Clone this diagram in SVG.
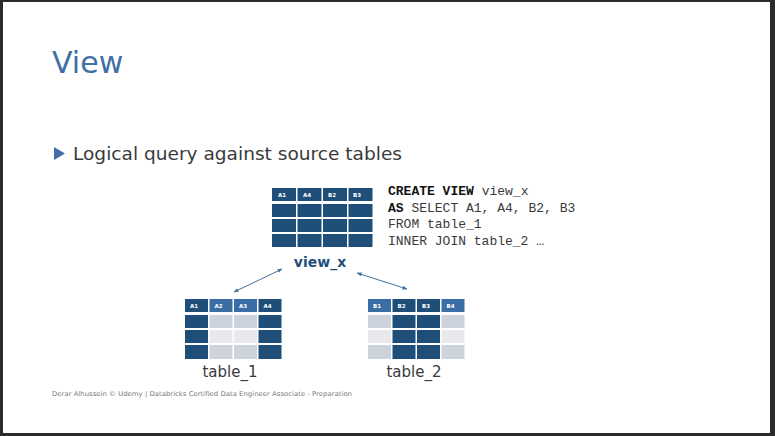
<svg xmlns="http://www.w3.org/2000/svg" width="775" height="436" viewBox="0 0 775 436">
  <defs>
    <style>
      .title { font-family: "DejaVu Sans", "Liberation Sans", sans-serif; font-size: 30px; fill: #3F6FA6; }
      .bullet { font-family: "DejaVu Sans", "Liberation Sans", sans-serif; font-size: 18px; fill: #3A3A3A; }
      .code { font-family: "Liberation Mono", "Courier New", monospace; font-size: 13px; fill: #3A3A3A; }
      .code b, .kw { font-weight: bold; fill: #111; }
      .lbl { font-family: "DejaVu Sans", "Liberation Sans", sans-serif; font-size: 15px; fill: #3A3A3A; }
      .vlbl { font-family: "DejaVu Sans", "Liberation Sans", sans-serif; font-size: 14px; font-weight: bold; fill: #1F4E79; }
      .hdr { font-family: "DejaVu Sans", "Liberation Sans", sans-serif; font-size: 5.5px; font-weight: bold; fill: #FFFFFF; }
      .foot { font-family: "DejaVu Sans", "Liberation Sans", sans-serif; font-size: 6.6px; fill: #7A7A7A; }
      .dk { fill: #1F4E79; }
      .md { fill: #3A6EA5; }
      .g1 { fill: #CDD3DD; }
      .g2 { fill: #E7E9ED; }
      .conn { stroke: #41719C; stroke-width: 1; fill: none; marker-start: url(#ah); marker-end: url(#ah); }
    </style>
    <marker id="ah" viewBox="0 0 10 10" refX="9" refY="5" markerWidth="5" markerHeight="5" orient="auto-start-reverse">
      <path d="M0,1 L10,5 L0,9 z" fill="#41719C"/>
    </marker>
  </defs>

  <!-- page -->
  <rect x="0" y="0" width="775" height="436" fill="#2B2B2B"/>
  <rect x="3" y="2" width="767" height="431" fill="#FFFFFF"/>

  <text class="title" x="52" y="73">View</text>

  <path d="M54,147 L65,153.5 L54,160 z" fill="#3F6FA6"/>
  <text class="bullet" x="73" y="160" textLength="329" lengthAdjust="spacingAndGlyphs">Logical query against source tables</text>

  <!-- view table -->
  <g id="view_x">
    <rect class="dk" x="272" y="188" width="24" height="13"/>
    <rect class="dk" x="297.5" y="188" width="24" height="13"/>
    <rect class="dk" x="323" y="188" width="24" height="13"/>
    <rect class="dk" x="348.5" y="188" width="24" height="13"/>
    <text class="hdr" x="278" y="196.5">A1</text>
    <text class="hdr" x="303" y="196.5">A4</text>
    <text class="hdr" x="328" y="196.5">B2</text>
    <text class="hdr" x="353" y="196.5">B3</text>
    <rect class="dk" x="272" y="204" width="24" height="13"/>
    <rect class="dk" x="297.5" y="204" width="24" height="13"/>
    <rect class="dk" x="323" y="204" width="24" height="13"/>
    <rect class="dk" x="348.5" y="204" width="24" height="13"/>
    <rect class="dk" x="272" y="219" width="24" height="13"/>
    <rect class="dk" x="297.5" y="219" width="24" height="13"/>
    <rect class="dk" x="323" y="219" width="24" height="13"/>
    <rect class="dk" x="348.5" y="219" width="24" height="13"/>
    <rect class="dk" x="272" y="234" width="24" height="13"/>
    <rect class="dk" x="297.5" y="234" width="24" height="13"/>
    <rect class="dk" x="323" y="234" width="24" height="13"/>
    <rect class="dk" x="348.5" y="234" width="24" height="13"/>
    <text class="vlbl" x="320" y="267" text-anchor="middle">view_x</text>
  </g>

  <!-- defining query -->
  <g id="query">
    <text class="code" x="388" y="195"><tspan class="kw">CREATE VIEW</tspan> view_x</text>
    <text class="code" x="388" y="212"><tspan class="kw">AS</tspan> SELECT A1, A4, B2, B3</text>
    <text class="code" x="388" y="228">FROM table_1</text>
    <text class="code" x="388" y="245">INNER JOIN table_2 …</text>
  </g>

  <!-- source table 1 -->
  <g id="table_1">
    <rect class="dk" x="185" y="299" width="23" height="13"/>
    <rect class="md" x="209.5" y="299" width="23" height="13"/>
    <rect class="md" x="234" y="299" width="23" height="13"/>
    <rect class="dk" x="258.5" y="299" width="23" height="13"/>
    <text class="hdr" x="190" y="307.5">A1</text>
    <text class="hdr" x="214.5" y="307.5">A2</text>
    <text class="hdr" x="239" y="307.5">A3</text>
    <text class="hdr" x="263.5" y="307.5">A4</text>
    <rect class="dk" x="185" y="315" width="23" height="13"/>
    <rect class="g1" x="209.5" y="315" width="23" height="13"/>
    <rect class="g1" x="234" y="315" width="23" height="13"/>
    <rect class="dk" x="258.5" y="315" width="23" height="13"/>
    <rect class="dk" x="185" y="330" width="23" height="13"/>
    <rect class="g2" x="209.5" y="330" width="23" height="13"/>
    <rect class="g2" x="234" y="330" width="23" height="13"/>
    <rect class="dk" x="258.5" y="330" width="23" height="13"/>
    <rect class="dk" x="185" y="345" width="23" height="14"/>
    <rect class="g1" x="209.5" y="345" width="23" height="14"/>
    <rect class="g1" x="234" y="345" width="23" height="14"/>
    <rect class="dk" x="258.5" y="345" width="23" height="14"/>
    <text class="lbl" x="230" y="377" text-anchor="middle">table_1</text>
  </g>

  <!-- source table 2 -->
  <g id="table_2">
    <rect class="md" x="368" y="299" width="23" height="13"/>
    <rect class="dk" x="392.5" y="299" width="23" height="13"/>
    <rect class="dk" x="417" y="299" width="23" height="13"/>
    <rect class="md" x="441.5" y="299" width="23" height="13"/>
    <text class="hdr" x="373" y="307.5">B1</text>
    <text class="hdr" x="397.5" y="307.5">B2</text>
    <text class="hdr" x="422" y="307.5">B3</text>
    <text class="hdr" x="446.5" y="307.5">B4</text>
    <rect class="g1" x="368" y="315" width="23" height="13"/>
    <rect class="dk" x="392.5" y="315" width="23" height="13"/>
    <rect class="dk" x="417" y="315" width="23" height="13"/>
    <rect class="g1" x="441.5" y="315" width="23" height="13"/>
    <rect class="g2" x="368" y="330" width="23" height="13"/>
    <rect class="dk" x="392.5" y="330" width="23" height="13"/>
    <rect class="dk" x="417" y="330" width="23" height="13"/>
    <rect class="g2" x="441.5" y="330" width="23" height="13"/>
    <rect class="g1" x="368" y="345" width="23" height="14"/>
    <rect class="dk" x="392.5" y="345" width="23" height="14"/>
    <rect class="dk" x="417" y="345" width="23" height="14"/>
    <rect class="g1" x="441.5" y="345" width="23" height="14"/>
    <text class="lbl" x="414" y="377" text-anchor="middle">table_2</text>
  </g>

  <!-- connectors -->
  <g id="connectors">
    <line class="conn" x1="282" y1="269" x2="234" y2="292"/>
    <line class="conn" x1="357" y1="273" x2="407" y2="289"/>
  </g>

  <text class="foot" x="52" y="396" textLength="300" lengthAdjust="spacingAndGlyphs">Derar Alhussein © Udemy  |  Databricks Certified Data Engineer Associate - Preparation</text>
</svg>
